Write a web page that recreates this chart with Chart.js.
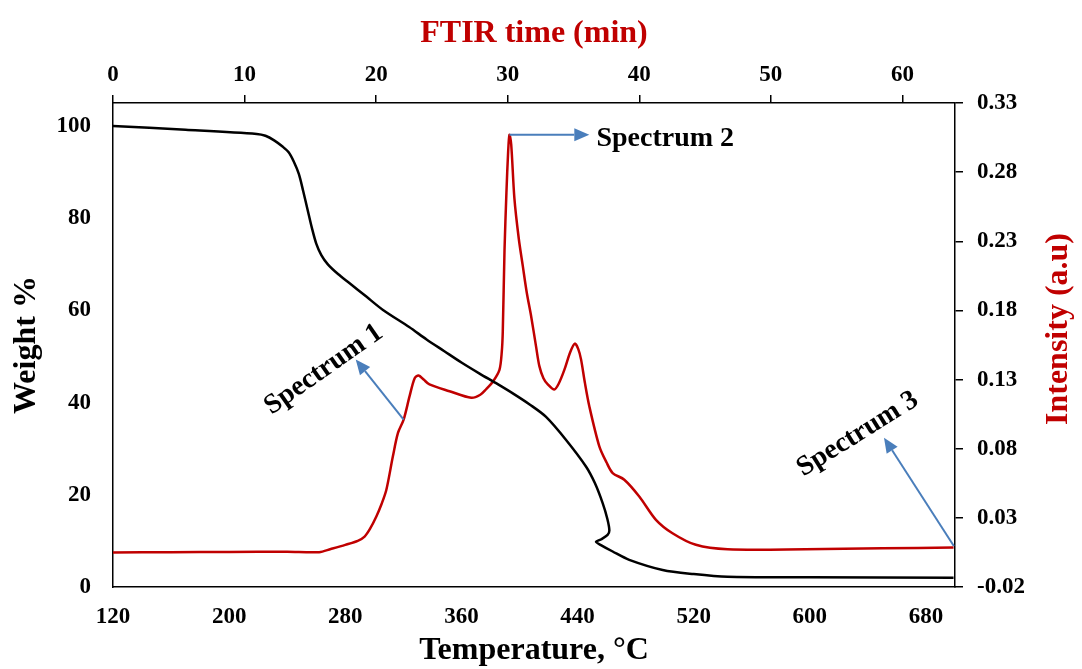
<!DOCTYPE html>
<html>
<head>
<meta charset="utf-8">
<title>TGA / FTIR</title>
<script src="https://cdn.jsdelivr.net/npm/chart.js@4.4.1/dist/chart.umd.min.js"></script>
<style>
    html, body { margin: 0; padding: 0; background: #fff; }
    #wrap { width: 1082px; height: 669px; position: relative; }
</style>
</head>
<body>
<div id="wrap"><canvas id="tgaChart"></canvas></div>
<script>
// TGA weight loss (temperature in °C, weight in %)
const tgaTemp = [120, 170, 219, 225, 231, 237, 241, 244.5, 248, 251, 254, 257, 260, 263.5, 268, 275, 283, 294.5, 306, 324, 336, 348, 360, 372.5, 385, 395.4, 407, 418.3, 432.1, 445.9, 452, 457.3, 460.5, 461.9, 460.7, 456, 452.7, 456.1, 464.2, 475.6, 498.6, 520, 543.3, 600, 699];
const tgaWeight = [100.0, 99.2, 98.3, 97.9, 96.9, 95.5, 94.3, 92.3, 89.6, 85.9, 81.9, 77.9, 74.5, 72.0, 70.0, 67.9, 65.9, 63.0, 60.1, 56.4, 53.7, 51.2, 48.7, 46.3, 44.0, 42.0, 39.6, 36.9, 31.9, 26.1, 22.5, 18.2, 14.8, 12.3, 11.3, 10.3, 9.8, 9.1, 7.7, 5.9, 3.7, 2.8, 2.2, 2.1, 2.0];

// FTIR intensity (a.u) against temperature
const ftirTemp = [120, 160, 200, 240, 262, 270, 280, 288.6, 293.3, 297, 301.4, 305, 308.3, 312.8, 316.3, 320.2, 324.3, 327.8, 330.5, 334, 338, 351.8, 366.8, 373, 377, 382, 386.2, 387.8, 388.5, 389.7, 391, 392.2, 393.1, 394.3, 396.5, 399.5, 402.3, 405, 408, 411.4, 413.7, 416.5, 419.5, 424, 427, 430.9, 435, 438.2, 440.5, 442.4, 445, 448.1, 455, 460, 464.2, 472.2, 482.5, 494, 505.4, 521.5, 543.3, 597, 650, 699];
const ftirIntensity = [0.0049, 0.0052, 0.0053, 0.0055, 0.0052, 0.0075, 0.0105, 0.0134, 0.0165, 0.022, 0.031, 0.040, 0.0503, 0.0745, 0.0914, 0.101, 0.118, 0.131, 0.133, 0.130, 0.1265, 0.1216, 0.1168, 0.119, 0.123, 0.129, 0.137, 0.150, 0.165, 0.224, 0.265, 0.295, 0.307, 0.300, 0.261, 0.232, 0.212, 0.193, 0.176, 0.154, 0.1397, 0.131, 0.1265, 0.1228, 0.127, 0.137, 0.150, 0.156, 0.152, 0.1446, 0.128, 0.1107, 0.0817, 0.070, 0.0624, 0.0576, 0.0455, 0.0286, 0.0189, 0.0105, 0.0073, 0.0073, 0.0080, 0.0085];

// tick labels
const tempTicks = [120, 200, 280, 360, 440, 520, 600, 680];
const timeTicks = [0, 10, 20, 30, 40, 50, 60];
const weightTicks = [0, 20, 40, 60, 80, 100];
const intensityTicks = [-0.02, 0.03, 0.08, 0.13, 0.18, 0.23, 0.28, 0.33];

// callouts: text anchor and arrow in (temperature, intensity)
const notes = [
    { text: 'Spectrum 1', t: 265.2, i: 0.1373, angle: -35, align: 'center', fromT: 320.2, fromI: 0.101, toT: 287.2, toI: 0.1446 },
    { text: 'Spectrum 2', t: 453, i: 0.304, angle: 0, align: 'left', fromT: 393.1, fromI: 0.307, toT: 448.1, toI: 0.307 },
    { text: 'Spectrum 3', t: 633, i: 0.0905, angle: -32, align: 'center', fromT: 699.2, fromI: 0.0097, toT: 651.1, toI: 0.088 }
];

const FONT = "'Liberation Serif', 'Times New Roman', serif";
const RED = '#c00000';
const ARROW = '#4a7ebb';

function useTicks(values) {
    return scale => { scale.ticks = values.map(v => ({ value: v })); };
}

const calloutPlugin = {
    id: 'callouts',
    afterDatasetsDraw(chart) {
        const { ctx, scales } = chart;
        const xs = scales.x, ys = scales.y1;
        ctx.save();
        notes.forEach(n => {
            const x1 = xs.getPixelForValue(n.fromT), y1 = ys.getPixelForValue(n.fromI);
            const x2 = xs.getPixelForValue(n.toT), y2 = ys.getPixelForValue(n.toI);
            const a = Math.atan2(y2 - y1, x2 - x1);
            const head = 15, half = 6.5;
            ctx.strokeStyle = ARROW;
            ctx.fillStyle = ARROW;
            ctx.lineWidth = 2;
            ctx.beginPath();
            ctx.moveTo(x1, y1);
            ctx.lineTo(x2 - Math.cos(a) * head, y2 - Math.sin(a) * head);
            ctx.stroke();
            ctx.beginPath();
            ctx.moveTo(x2, y2);
            ctx.lineTo(x2 - Math.cos(a) * head - Math.sin(a) * half, y2 - Math.sin(a) * head + Math.cos(a) * half);
            ctx.lineTo(x2 - Math.cos(a) * head + Math.sin(a) * half, y2 - Math.sin(a) * head - Math.cos(a) * half);
            ctx.closePath();
            ctx.fill();

            ctx.save();
            ctx.translate(xs.getPixelForValue(n.t), ys.getPixelForValue(n.i));
            ctx.rotate(n.angle * Math.PI / 180);
            ctx.fillStyle = '#000';
            ctx.font = 'bold 28px ' + FONT;
            ctx.textAlign = n.align;
            ctx.textBaseline = 'middle';
            ctx.fillText(n.text, 0, 0);
            ctx.restore();
        });
        ctx.restore();
    },
    afterDraw(chart) {
        // right axis title reads bottom to top
        const { ctx } = chart;
        const area = chart.chartArea;
        ctx.save();
        ctx.translate(1059, (area.top + area.bottom) / 2 - 16);
        ctx.rotate(-Math.PI / 2);
        ctx.fillStyle = RED;
        ctx.font = 'bold 32px ' + FONT;
        ctx.textAlign = 'center';
        ctx.textBaseline = 'middle';
        ctx.fillText('Intensity (a.u)', 0, 0);
        ctx.restore();
    }
};

document.addEventListener('DOMContentLoaded', () => {
    const ctx = document.getElementById('tgaChart').getContext('2d');
    const tickFont = { family: FONT, size: 23, weight: 'bold' };
    const titleFont = { family: FONT, size: 32, weight: 'bold' };

    new Chart(ctx, {
        type: 'line',
        data: {
            datasets: [
                {
                    label: 'Weight',
                    data: tgaTemp.map((t, k) => ({ x: t, y: tgaWeight[k] })),
                    xAxisID: 'x',
                    yAxisID: 'y',
                    borderColor: '#000',
                    borderWidth: 2.5,
                    pointRadius: 0,
                    tension: 0.3,
                    fill: false
                },
                {
                    label: 'Intensity',
                    data: ftirTemp.map((t, k) => ({ x: t, y: ftirIntensity[k] })),
                    xAxisID: 'x',
                    yAxisID: 'y1',
                    borderColor: RED,
                    borderWidth: 2.5,
                    pointRadius: 0,
                    tension: 0.3,
                    fill: false
                }
            ]
        },
        options: {
            responsive: true,
            maintainAspectRatio: false,
            devicePixelRatio: 1,
            animation: false,
            layout: { padding: 0 },
            plugins: { legend: { display: false }, tooltip: { enabled: false } },
            scales: {
                x: {
                    type: 'linear',
                    position: 'bottom',
                    min: 120,
                    max: 700,
                    afterBuildTicks: useTicks(tempTicks),
                    afterFit: s => { s.height = 82; },
                    grid: { display: false, drawTicks: false },
                    border: { display: true, color: '#000', width: 1.5 },
                    ticks: { font: tickFont, color: '#000', padding: 16, maxRotation: 0, autoSkip: false },
                    title: { display: true, text: 'Temperature, °C', color: '#000', font: titleFont, padding: { top: 0, bottom: -1 } }
                },
                x2: {
                    type: 'linear',
                    position: 'top',
                    min: 0,
                    max: 64,
                    afterBuildTicks: useTicks(timeTicks),
                    afterFit: s => { s.height = 103; },
                    grid: { display: true, drawOnChartArea: false, drawTicks: true, tickLength: 8, color: '#000', lineWidth: 1.5 },
                    border: { display: true, color: '#000', width: 1.5 },
                    ticks: { font: tickFont, color: '#000', padding: 6, maxRotation: 0, autoSkip: false },
                    title: { display: true, text: 'FTIR time (min)', color: RED, font: titleFont, padding: { top: 15, bottom: 0 } }
                },
                y: {
                    type: 'linear',
                    position: 'left',
                    min: 0,
                    max: 105,
                    afterBuildTicks: useTicks(weightTicks),
                    afterFit: s => { s.width = 113; },
                    grid: { display: false, drawTicks: false },
                    border: { display: true, color: '#000', width: 1.5 },
                    ticks: { font: tickFont, color: '#000', padding: 22, autoSkip: false },
                    title: { display: true, text: 'Weight %', color: '#000', font: titleFont, padding: { top: 8, bottom: 0 } }
                },
                y1: {
                    type: 'linear',
                    position: 'right',
                    min: -0.02,
                    max: 0.33,
                    afterBuildTicks: useTicks(intensityTicks),
                    afterFit: s => { s.width = 127; },
                    grid: { display: true, drawOnChartArea: false, drawTicks: true, tickLength: 8, color: '#000', lineWidth: 1.5 },
                    border: { display: true, color: '#000', width: 1.5 },
                    ticks: { font: tickFont, color: '#000', padding: 14, autoSkip: false, callback: v => v.toFixed(2) }
                }
            }
        },
        plugins: [calloutPlugin]
    });
});
</script>
</body>
</html>
